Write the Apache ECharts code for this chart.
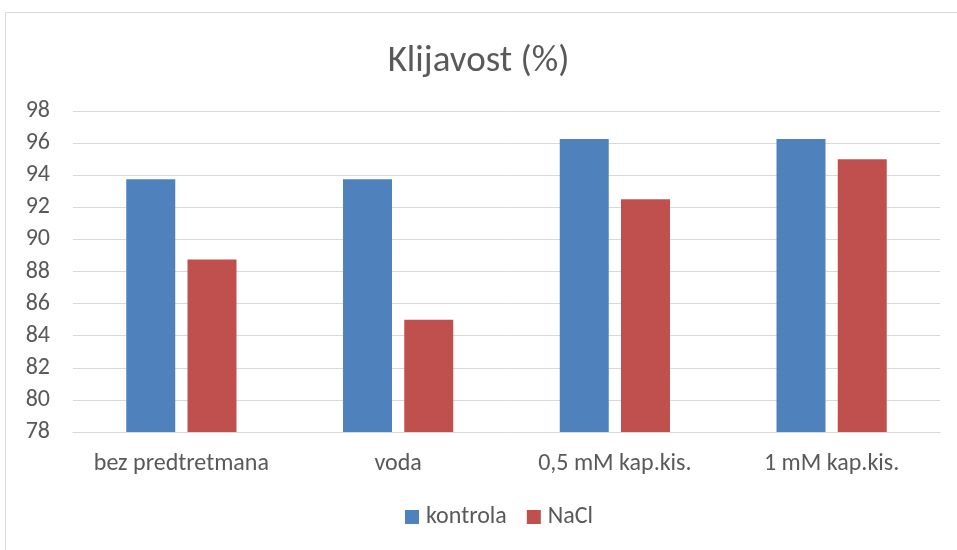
<!DOCTYPE html>
<html>
<head>
<meta charset="utf-8">
<script src="https://cdn.jsdelivr.net/npm/echarts@6/dist/echarts.min.js"></script>
<style>
  html, body { margin: 0; padding: 0; background: #fff; }
  #chart { width: 957px; height: 550px; }
</style>
</head>
<body>
<div id="chart"></div>
<script>
// podaci
const categories = ['bez predtretmana', 'voda', '0,5 mM kap.kis.', '1 mM kap.kis.'];
const kontrola = [93.75, 93.75, 96.25, 96.25];
const nacl = [88.75, 85, 92.5, 95];

const font = 'Carlito, "Open Sans", "Noto Sans", sans-serif';
const textColor = '#595959';

let myChart = echarts.init(document.getElementById('chart'));

let option = {
    backgroundColor: '#fff',
    textStyle: { fontFamily: font },
    graphic: [
        {
            type: 'rect',
            shape: { x: 5.5, y: 12.5, width: 1000, height: 600 },
            style: { fill: 'none', stroke: '#d9d9d9', lineWidth: 1 },
            silent: true
        }
    ],
    title: {
        text: 'Klijavost (%)',
        left: 'center',
        top: 38,
        textStyle: { fontFamily: font, fontSize: 37, fontWeight: 'normal', color: textColor }
    },
    legend: {
        data: ['kontrola', 'NaCl'],
        bottom: 16,
        left: 400,
        itemWidth: 14,
        itemHeight: 14,
        itemGap: 20,
        icon: 'rect',
        textStyle: { fontFamily: font, fontSize: 24, color: textColor, padding: [0, 0, 0, 2] }
    },
    grid: {
        left: 73,
        right: 17,
        top: 111,
        bottom: 118,
        containLabel: false
    },
    xAxis: {
        type: 'category',
        data: categories,
        axisLine: { lineStyle: { color: '#d9d9d9', width: 1 } },
        axisTick: { show: false },
        axisLabel: { color: textColor, fontSize: 24, margin: 20, interval: 0, fontFamily: font }
    },
    yAxis: {
        type: 'value',
        min: 78,
        max: 98,
        interval: 2,
        axisLine: { show: false },
        axisTick: { show: false },
        axisLabel: { color: textColor, fontSize: 24, margin: 23, fontFamily: font },
        splitLine: { lineStyle: { color: '#d9d9d9', width: 1 } }
    },
    series: [
        {
            name: 'kontrola',
            type: 'bar',
            data: kontrola,
            barWidth: 49,
            barGap: '25%',
            itemStyle: { color: '#4f81bd' }
        },
        {
            name: 'NaCl',
            type: 'bar',
            data: nacl,
            barWidth: 49,
            itemStyle: { color: '#c0504d' }
        }
    ]
};
option && myChart.setOption(option);
</script>
</body>
</html>
